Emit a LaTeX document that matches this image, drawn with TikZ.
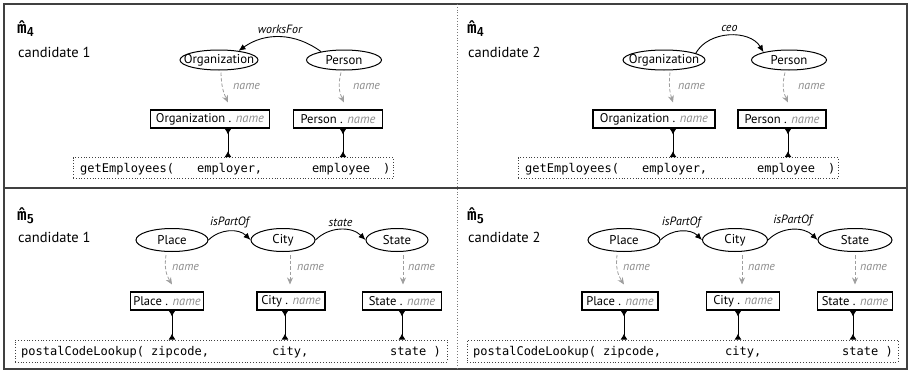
\documentclass[tikz,border=0pt]{standalone}
\usepackage{fontspec}
\setmainfont{PT Sans}
\setmonofont{DejaVu Sans Mono}
\usetikzlibrary{arrows.meta,shapes.geometric}
\definecolor{framec}{gray}{0.25}
\definecolor{namec}{gray}{0.55}
\definecolor{dashc}{gray}{0.62}
\newcommand{\nm}{\textcolor{namec}{\itshape name}}
\newcommand{\zw}[1]{\makebox[0pt]{#1}}
\begin{document}
\begin{tikzpicture}[
  cls/.style={ellipse,draw,line width=1pt,inner sep=0pt,minimum height=20pt,font=\fontsize{12.8}{15}\selectfont},
  lit/.style={draw,line width=1.1pt,inner sep=0pt,minimum height=18pt,font=\fontsize{12.6}{15}\selectfont},
  fnbox/.style={draw=framec,dotted,line width=0.8pt,inner sep=0pt,minimum height=21pt},
  prop/.style={-{Latex[length=7pt,width=6pt]},line width=0.9pt},
  plab/.style={font=\itshape\fontsize{12}{14}\selectfont,inner sep=0pt},
  namearr/.style={dashc,dashed,dash pattern=on 3.5pt off 2pt,-{Stealth[length=7pt,width=6pt]},line width=0.8pt},
  nlab/.style={text=namec,font=\itshape\fontsize{12}{14}\selectfont,inner sep=0pt,anchor=west},
  link/.style={{Latex[reversed,length=6pt,width=7pt]}-{Latex[reversed,length=6pt,width=7pt]},line width=0.9pt},
  fntext/.style={anchor=base west,font=\ttfamily\fontsize{12}{14}\selectfont,inner sep=0pt},
  ttl/.style={anchor=base west,inner sep=0pt,font=\fontsize{14.5}{16}\selectfont},
]
\useasboundingbox (0,0) rectangle (911pt,-372pt);
\begin{scope}[x=1pt,y=1pt]
% frame
\draw[framec,line width=1.2pt] (4,-4) rectangle (907,-369);
\draw[framec,line width=1.2pt] (4,-188) -- (907,-188);
\draw[framec!70,dotted,line width=0.8pt] (457,-4) -- (457,-369);

% ---------- panel A ----------
\node[ttl] (ta) at (17,-33) {\ttfamily\bfseries\fontsize{16}{16}\selectfont\^{m}\raisebox{-3pt}{\sffamily\bfseries\fontsize{13}{13}\selectfont 4}};
\node[ttl] (ca) at (18,-57) {candidate 1};
\node[cls,minimum width=78pt] (o1) at (219,-60) {\zw{Organization}};
\node[cls,minimum width=75pt] (p1) at (344,-60) {\zw{Person}};
\draw[prop] (p1.160) to[bend right=36] node[plab,above=3pt] {worksFor} (o1.25);
\node[lit,minimum width=119pt] (ob1) at (210,-119) {\zw{Organization . \nm}};
\node[lit,minimum width=89pt] (pb1) at (338,-119) {\zw{Person . \nm}};
\draw[namearr] ([xshift=2pt,yshift=-2pt]o1.south) to[bend right=12] ([xshift=18pt,yshift=7pt]ob1.north);
\draw[namearr] ([xshift=-3pt,yshift=-2pt]p1.south) to[bend right=20] ([xshift=6pt,yshift=7pt]pb1.north);
\node[nlab] (n1a) at (233,-86) {name};
\node[nlab] (n1b) at (353,-86) {name};
\node[fnbox,minimum width=320pt] (fn1) at (233,-168) {};
\draw[link] ([xshift=18pt]ob1.south) -- ([xshift=18pt]ob1.south |- fn1.north);
\draw[link] ([xshift=5pt]pb1.south) -- ([xshift=5pt]pb1.south |- fn1.north);
\node[fntext] (f1a) at (80,-172) {getEmployees(};
\node[fntext] (f1b) at (197,-172) {employer,};
\node[fntext] (f1c) at (312,-172) {employee};
\node[fntext] (f1d) at (383,-172) {)};

% ---------- panel B ----------
\node[ttl] (tb) at (467,-33) {\ttfamily\bfseries\fontsize{16}{16}\selectfont\^{m}\raisebox{-3pt}{\sffamily\bfseries\fontsize{13}{13}\selectfont 4}};
\node[ttl] (cb) at (468,-57) {candidate 2};
\node[cls,minimum width=82pt] (o2) at (664,-60) {\zw{Organization}};
\node[cls,minimum width=75pt] (p2) at (789,-60) {\zw{Person}};
\draw[prop] (o2.12) to[bend left=60] node[plab,above=3pt] {ceo} (p2.163);
\node[lit,minimum width=122pt] (ob2) at (654,-119) {\zw{Organization . \nm}};
\node[lit,minimum width=88pt] (pb2) at (782,-119) {\zw{Person . \nm}};
\draw[namearr] ([xshift=6pt,yshift=-2pt]o2.south) to[bend right=12] ([xshift=19pt,yshift=7pt]ob2.north);
\draw[namearr] ([xshift=-4pt,yshift=-2pt]p2.south) to[bend right=20] ([xshift=6pt,yshift=7pt]pb2.north);
\node[nlab] (n2a) at (678,-86) {name};
\node[nlab] (n2b) at (798,-86) {name};
\node[fnbox,minimum width=320pt] (fn2) at (678,-168) {};
\draw[link] ([xshift=19pt]ob2.south) -- ([xshift=19pt]ob2.south |- fn2.north);
\draw[link] ([xshift=6pt]pb2.south) -- ([xshift=6pt]pb2.south |- fn2.north);
\node[fntext] (f2a) at (525,-172) {getEmployees(};
\node[fntext] (f2b) at (642,-172) {employer,};
\node[fntext] (f2c) at (757,-172) {employee};
\node[fntext] (f2d) at (828,-172) {)};

% ---------- panel C ----------
\node[ttl] (tc) at (17,-220) {\ttfamily\bfseries\fontsize{16}{16}\selectfont\^{m}\raisebox{-3pt}{\sffamily\bfseries\fontsize{13}{13}\selectfont 5}};
\node[ttl] (cc) at (18,-242) {candidate 1};
\node[cls,minimum width=72pt,minimum height=23pt] (pl3) at (172,-240) {\zw{Place}};
\node[cls,minimum width=64pt,minimum height=23pt] (ci3) at (283,-240) {\zw{City}};
\node[cls,minimum width=62pt,minimum height=23pt] (st3) at (397,-240) {\zw{State}};
\draw[prop] (pl3.east) to[bend left=45] node[plab,above=3pt] {isPartOf} (ci3.west);
\draw[prop] (ci3.east) to[bend left=45] node[plab,above=3pt] {state} (st3.west);
\node[lit,minimum width=73pt] (plb3) at (167,-301) {\zw{Place . \nm}};
\node[lit,minimum width=68pt] (cib3) at (291,-301) {\zw{City . \nm}};
\node[lit,minimum width=79pt] (stb3) at (402,-301) {\zw{State . \nm}};
\draw[namearr] ([xshift=-6pt,yshift=-3pt]pl3.south) to[bend right=20] ([xshift=5pt,yshift=7pt]plb3.north);
\draw[namearr] ([xshift=7pt,yshift=-3pt]ci3.south) -- ([xshift=-1pt,yshift=7pt]cib3.north);
\draw[namearr] ([xshift=6pt,yshift=-3pt]st3.south) -- ([xshift=1pt,yshift=7pt]stb3.north);
\node[nlab] (n3a) at (172,-267) {name};
\node[nlab] (n3b) at (297,-267) {name};
\node[nlab] (n3c) at (408,-267) {name};
\node[fnbox,minimum width=432pt,minimum height=22pt] (fn3) at (231,-351) {};
\draw[link] ([xshift=5pt]plb3.south) -- ([xshift=5pt]plb3.south |- fn3.north);
\draw[link] ([xshift=-6pt]cib3.south) -- ([xshift=-6pt]cib3.south |- fn3.north);
\draw[link] (stb3.south) -- (stb3.south |- fn3.north);
\node[fntext] (f3a) at (21,-355) {postalCodeLookup( zipcode,};
\node[fntext] (f3b) at (272,-355) {city,};
\node[fntext] (f3c) at (390,-355) {state )};

% ---------- panel D ----------
\node[ttl] (td) at (467,-220) {\ttfamily\bfseries\fontsize{16}{16}\selectfont\^{m}\raisebox{-3pt}{\sffamily\bfseries\fontsize{13}{13}\selectfont 5}};
\node[ttl] (cd) at (468,-242) {candidate 2};
\node[cls,minimum width=72pt,minimum height=23pt] (pl4) at (624,-240) {\zw{Place}};
\node[cls,minimum width=65pt,minimum height=23pt] (ci4) at (735,-240) {\zw{City}};
\node[cls,minimum width=74pt,minimum height=23pt] (st4) at (855,-240) {\zw{State}};
\draw[prop] (pl4.east) to[bend left=45] node[plab,above=3pt] {isPartOf} (ci4.west);
\draw[prop] (ci4.east) to[bend left=45] node[plab,above=3pt] {isPartOf} (st4.west);
\node[lit,minimum width=76pt] (plb4) at (620,-301) {\zw{Place . \nm}};
\node[lit,minimum width=73pt] (cib4) at (743,-301) {\zw{City . \nm}};
\node[lit,minimum width=75pt] (stb4) at (855,-301) {\zw{State . \nm}};
\draw[namearr] ([xshift=-7pt,yshift=-3pt]pl4.south) to[bend right=20] ([xshift=4pt,yshift=7pt]plb4.north);
\draw[namearr] ([xshift=7pt,yshift=-3pt]ci4.south) -- ([xshift=-1pt,yshift=7pt]cib4.north);
\draw[namearr] ([xshift=0pt,yshift=-3pt]st4.south) -- ([xshift=0pt,yshift=7pt]stb4.north);
\node[nlab] (n4a) at (623,-267) {name};
\node[nlab] (n4b) at (748,-267) {name};
\node[nlab] (n4c) at (860,-267) {name};
\node[fnbox,minimum width=431pt,minimum height=22pt] (fn4) at (682.5,-351) {};
\draw[link] ([xshift=4pt]plb4.south) -- ([xshift=4pt]plb4.south |- fn4.north);
\draw[link] ([xshift=-5pt]cib4.south) -- ([xshift=-5pt]cib4.south |- fn4.north);
\draw[link] ([xshift=-2pt]stb4.south) -- ([xshift=-2pt]stb4.south |- fn4.north);
\node[fntext] (f4a) at (473,-355) {postalCodeLookup( zipcode,};
\node[fntext] (f4b) at (725,-355) {city,};
\node[fntext] (f4c) at (842,-355) {state )};
\end{scope}
\end{tikzpicture}
\end{document}
